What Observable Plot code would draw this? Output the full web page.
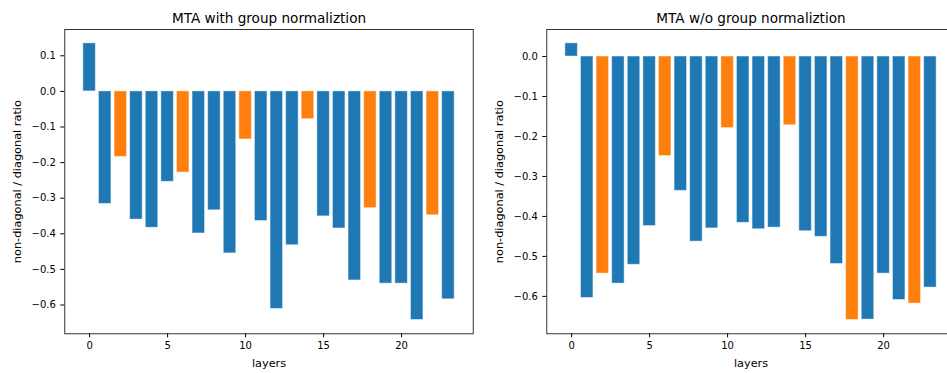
<!DOCTYPE html>
<html>
<head>
<meta charset="utf-8">
<script src="https://cdn.jsdelivr.net/npm/d3@7"></script>
<script src="https://cdn.jsdelivr.net/npm/@observablehq/plot@0.6"></script>
<style>
  html, body { margin: 0; padding: 0; background: #fff; overflow: hidden; }
  #wrap { position: relative; width: 947px; height: 373px; overflow: hidden; font-family: "DejaVu Sans", sans-serif; }
  .panel { position: absolute; top: 0; }
  .panel svg { max-width: none !important; }
</style>
</head>
<body>
<div id="wrap">
  <div class="panel" id="left" style="left:0px; width:480px"></div>
  <div class="panel" id="right" style="left:480px; width:475px"></div>
</div>
<script>
const layers = d3.range(24);
const groupLayers = [2, 6, 10, 14, 18, 22];
const withNorm = [0.135, -0.316, -0.184, -0.360, -0.383, -0.254, -0.228, -0.399, -0.334, -0.455, -0.135, -0.364,
                  -0.611, -0.432, -0.078, -0.351, -0.385, -0.531, -0.328, -0.540, -0.540, -0.642, -0.348, -0.584];
const withoutNorm = [0.033, -0.604, -0.543, -0.568, -0.521, -0.424, -0.249, -0.336, -0.463, -0.430, -0.179, -0.416,
                     -0.432, -0.428, -0.172, -0.437, -0.451, -0.519, -0.659, -0.658, -0.543, -0.609, -0.618, -0.578];
const titles = ["MTA with group normaliztion", "MTA w/o group normaliztion"];
const xLabel = "layers";
const yLabel = "non-diagonal / diagonal ratio";
const xTicks = [0, 5, 10, 15, 20];
const yTicksLeft = [0.1, 0.0, -0.1, -0.2, -0.3, -0.4, -0.5, -0.6];
const yTicksRight = [0.0, -0.1, -0.2, -0.3, -0.4, -0.5, -0.6];
const colors = {normal: "#1f77b4", group: "#ff7f0e"};

function withMargin(lo, hi) {
  const m = (hi - lo) * 0.05;
  return [lo - m, hi + m];
}

function panel(values, title, yTicks, width, marginLeft, marginRight) {
  const data = layers.map((l, i) => ({layer: l, value: values[i], kind: groupLayers.includes(l) ? "group" : "normal"}));
  const yDom = withMargin(Math.min(0, d3.min(values)), Math.max(0, d3.max(values)));
  const xDom = withMargin(-0.4, 23.4);
  return Plot.plot({
    width, height: 373,
    marginTop: 29, marginBottom: 39.7, marginLeft, marginRight,
    style: {fontFamily: "DejaVu Sans, sans-serif", fontSize: "10px", color: "#000", background: "transparent", maxWidth: "none"},
    x: {domain: xDom},
    y: {domain: yDom},
    marks: [
      Plot.rect(data, {
        x1: d => d.layer - 0.4, x2: d => d.layer + 0.4, y1: 0, y2: "value",
        fill: d => colors[d.kind], stroke: "#fff", strokeOpacity: 0.45, strokeWidth: 1
      }),
      Plot.frame({stroke: "#000", strokeWidth: 0.8}),
      Plot.axisX({ticks: xTicks, tickSize: 4, tickPadding: 4.5, tickFormat: d3.format("d"), label: null, fontSize: 10}),
      Plot.axisX({ticks: [], label: xLabel, labelAnchor: "center", labelArrow: "none", labelOffset: 33, fontSize: 11.3}),
      Plot.axisY({ticks: yTicks, tickSize: 4, tickPadding: 5, tickFormat: d3.format(".1f"), label: null, fontSize: 10}),
      Plot.axisY({ticks: [], label: yLabel, labelAnchor: "center", labelArrow: "none", labelOffset: 52, fontSize: 11.3}),
      Plot.text([title], {frameAnchor: "top", dy: -16, fontSize: 13.6, text: d => d, fill: "#000"})
    ]
  });
}

document.getElementById("left").appendChild(panel(withNorm, titles[0], yTicksLeft, 480, 64.3, 7.3));
document.getElementById("right").appendChild(panel(withoutNorm, titles[1], yTicksRight, 475, 66.3, 0.3));
</script>
</body>
</html>
